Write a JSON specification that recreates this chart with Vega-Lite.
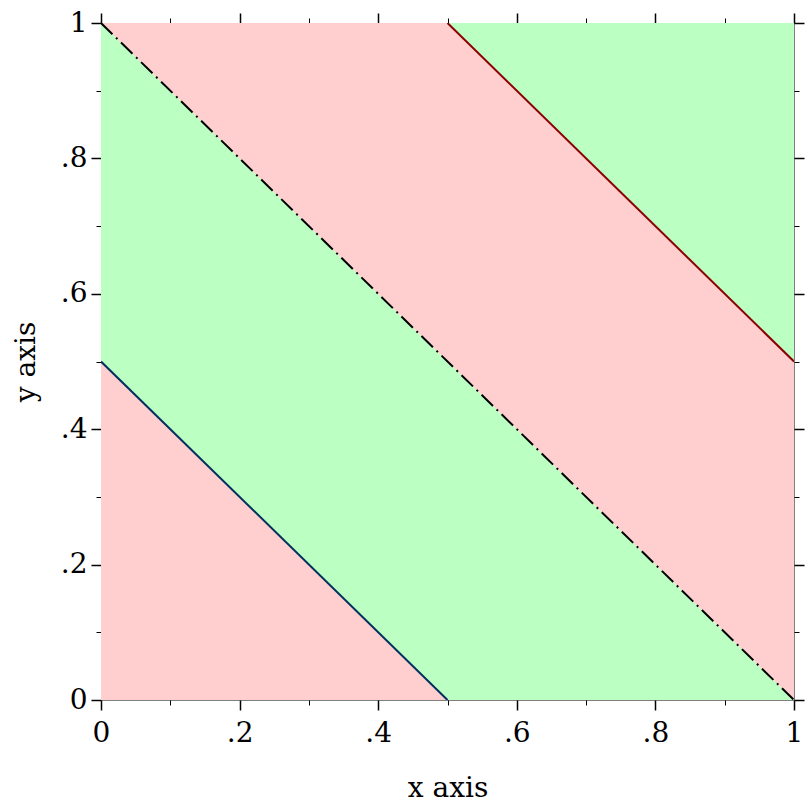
{
  "$schema": "https://vega.github.io/schema/vega-lite/v6.json",
  "width": 693,
  "height": 677,
  "autosize": {"type": "none"},
  "padding": {"left": 101, "top": 23, "right": 18, "bottom": 112},
  "background": "white",
  "config": {
    "view": {"stroke": "#7f7f7f", "strokeWidth": 1},
    "font": "DejaVu Serif",
    "axis": {
      "domain": false,
      "grid": false,
      "labelFont": "DejaVu Serif",
      "labelFontSize": 28,
      "labelColor": "black",
      "labelFlush": false,
      "labelOverlap": false,
      "titleFont": "DejaVu Serif",
      "titleFontSize": 28,
      "titleFontWeight": "normal",
      "titleColor": "black",
      "tickColor": "black"
    }
  },
  "layer": [
    {
      "data": {"values": [
        {"r": "a", "x": 0, "lo": 0, "hi": 0.5},
        {"r": "a", "x": 0.5, "lo": 0, "hi": 0},
        {"r": "b", "x": 0, "lo": 0.5, "hi": 1},
        {"r": "b", "x": 0.5, "lo": 0, "hi": 0.5},
        {"r": "b", "x": 1, "lo": 0, "hi": 0},
        {"r": "c", "x": 0, "lo": 1, "hi": 1},
        {"r": "c", "x": 0.5, "lo": 0.5, "hi": 1},
        {"r": "c", "x": 1, "lo": 0, "hi": 0.5},
        {"r": "d", "x": 0.5, "lo": 1, "hi": 1},
        {"r": "d", "x": 1, "lo": 0.5, "hi": 1}
      ]},
      "mark": {"type": "area", "orient": "vertical", "clip": true},
      "encoding": {
        "x": {
          "field": "x", "type": "quantitative",
          "scale": {"domain": [0, 1], "nice": false, "zero": false},
          "axis": {
            "orient": "bottom",
            "values": [0, 0.1, 0.2, 0.3, 0.4, 0.5, 0.6, 0.7, 0.8, 0.9, 1],
            "tickSize": {"condition": {"test": "round(datum.value*10) % 2 == 1", "value": 5}, "value": 10},
            "tickWidth": {"condition": {"test": "round(datum.value*10) % 2 == 1", "value": 1}, "value": 1.5},
            "labelExpr": "round(datum.value*10) % 2 == 1 ? '' : (datum.value == 0 ? '0' : (datum.value == 1 ? '1' : replace(format(datum.value, '.1f'), '0.', '.')))",
            "labelPadding": 9,
            "title": "x axis",
            "titleBaseline": "alphabetic",
            "titleAlign": "center",
            "titleX": 346.5,
            "titleY": 96
          }
        },
        "y": {
          "field": "hi", "type": "quantitative",
          "scale": {"domain": [0, 1], "nice": false, "zero": false},
          "axis": {
            "orient": "left",
            "values": [0, 0.1, 0.2, 0.3, 0.4, 0.5, 0.6, 0.7, 0.8, 0.9, 1],
            "tickSize": {"condition": {"test": "round(datum.value*10) % 2 == 1", "value": 5}, "value": 10},
            "tickWidth": {"condition": {"test": "round(datum.value*10) % 2 == 1", "value": 1}, "value": 1.5},
            "labelExpr": "round(datum.value*10) % 2 == 1 ? '' : (datum.value == 0 ? '0' : (datum.value == 1 ? '1' : replace(format(datum.value, '.1f'), '0.', '.')))",
            "labelPadding": 4,
            "labelBaseline": "middle",
            "title": "y axis",
            "titleAngle": -90,
            "titleBaseline": "alphabetic",
            "titleAlign": "center",
            "titleX": -67,
            "titleY": 338.5
          }
        },
        "y2": {"field": "lo"},
        "color": {
          "field": "r", "type": "nominal",
          "scale": {"domain": ["a", "b", "c", "d"], "range": ["#ffcece", "#bbffc2", "#ffcece", "#bbffc2"]},
          "legend": null
        }
      }
    },
    {
      "data": {"values": [
        {"x": 0, "y": 0.5},
        {"x": 0.5, "y": 0}
      ]},
      "mark": {"type": "line", "strokeWidth": 2, "color": "#00305e", "clip": true},
      "encoding": {
        "x": {"field": "x", "type": "quantitative", "scale": {"domain": [0, 1], "nice": false, "zero": false}, "axis": null},
        "y": {"field": "y", "type": "quantitative", "scale": {"domain": [0, 1], "nice": false, "zero": false}, "axis": null}
      }
    },
    {
      "data": {"values": [
        {"x": 0, "y": 1},
        {"x": 1, "y": 0}
      ]},
      "mark": {"type": "line", "strokeWidth": 2, "color": "#000000", "strokeDash": [16, 5, 2, 5], "clip": true},
      "encoding": {
        "x": {"field": "x", "type": "quantitative", "scale": {"domain": [0, 1], "nice": false, "zero": false}, "axis": null},
        "y": {"field": "y", "type": "quantitative", "scale": {"domain": [0, 1], "nice": false, "zero": false}, "axis": null}
      }
    },
    {
      "data": {"values": [
        {"x": 0.5, "y": 1},
        {"x": 1, "y": 0.5}
      ]},
      "mark": {"type": "line", "strokeWidth": 2, "color": "#8b0000", "clip": true},
      "encoding": {
        "x": {
          "field": "x", "type": "quantitative",
          "scale": {"domain": [0, 1], "nice": false, "zero": false},
          "axis": {
            "orient": "top",
            "values": [0, 0.1, 0.2, 0.3, 0.4, 0.5, 0.6, 0.7, 0.8, 0.9, 1],
            "tickSize": {"condition": {"test": "round(datum.value*10) % 2 == 1", "value": 5}, "value": 10},
            "tickWidth": {"condition": {"test": "round(datum.value*10) % 2 == 1", "value": 1}, "value": 1.5},
            "labels": false,
            "title": null
          }
        },
        "y": {
          "field": "y", "type": "quantitative",
          "scale": {"domain": [0, 1], "nice": false, "zero": false},
          "axis": {
            "orient": "right",
            "values": [0, 0.1, 0.2, 0.3, 0.4, 0.5, 0.6, 0.7, 0.8, 0.9, 1],
            "tickSize": {"condition": {"test": "round(datum.value*10) % 2 == 1", "value": 5}, "value": 10},
            "tickWidth": {"condition": {"test": "round(datum.value*10) % 2 == 1", "value": 1}, "value": 1.5},
            "labels": false,
            "title": null
          }
        }
      }
    }
  ]
}
